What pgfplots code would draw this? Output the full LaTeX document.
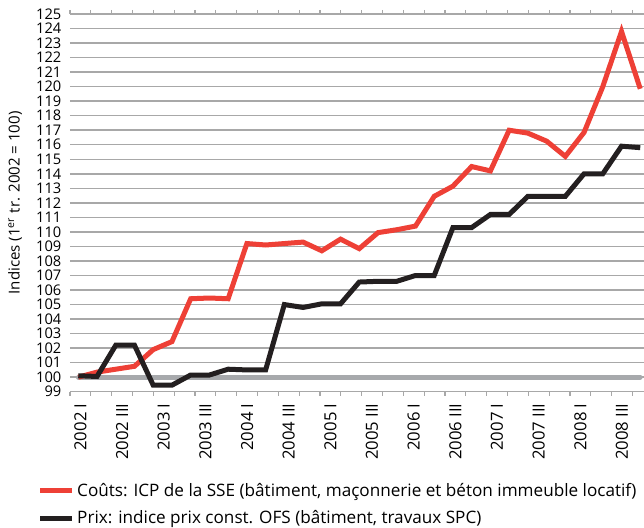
\documentclass[border=0pt]{standalone}
\usepackage{fontspec}
\setmainfont{Open Sans}
\usepackage{pgfplots}
\usepackage{pgfplotstable}
\pgfplotsset{compat=1.18}
\definecolor{cred}{RGB}{238,64,54}
\definecolor{cblack}{RGB}{35,31,32}
\definecolor{cgrid}{RGB}{168,168,168}
\definecolor{cline}{RGB}{167,169,172}

\pgfplotstableread{
i cout prix
0 100.0 100.1
1 100.35 100.05
2 100.55 102.2
3 100.75 102.2
4 101.9 99.45
5 102.45 99.45
6 105.4 100.15
7 105.45 100.15
8 105.4 100.55
9 109.2 100.5
10 109.1 100.5
11 109.2 105.0
12 109.3 104.8
13 108.7 105.05
14 109.5 105.05
15 108.85 106.55
16 109.95 106.6
17 110.15 106.6
18 110.4 107.0
19 112.45 107.0
20 113.15 110.3
21 114.5 110.3
22 114.2 111.2
23 117.0 111.2
24 116.8 112.45
25 116.25 112.45
26 115.2 112.45
27 116.85 114.0
28 120.0 114.0
29 123.8 115.9
30 119.85 115.8
}\data

\begin{document}
\begin{tikzpicture}
\useasboundingbox (-52.5pt,-101.5pt) rectangle (430.5pt,293.8pt);
\begin{axis}[
  at={(0pt,0pt)}, anchor=south west,
  scale only axis, width=430.5pt, height=283.3pt,
  xmin=-0.443, xmax=30.2, ymin=99, ymax=125,
  axis line style={draw=none},
  /pgf/number format/assume math mode=true,
  ytick={99,100,...,125},
  ymajorgrids,
  grid style={cgrid, line width=1.1pt},
  major tick length=0pt,
  minor tick length=3pt,
  tick align=outside,
  minor tick style={cgrid, line width=0.9pt},
  xtick={0.112,2.336,4.560,6.785,9.009,11.233,13.457,15.681,17.906,20.130,22.354,24.578,26.802,29.027},
  xticklabels={2002 I,2002 III,2003 I,2003 III,2004 I,2004 III,2005 I,2005 III,2006 I,2006 III,2007 I,2007 III,2008 I,2008 III},
  minor xtick={-0.443,0.669,1.781,2.893,4.005,5.118,6.230,7.342,8.454,9.566,10.678,11.790,12.902,14.014,15.126,16.239,17.351,18.463,19.575,20.687,21.799,22.911,24.023,25.135,26.247,27.360,28.472,29.584},
  xticklabel style={yshift=-5.3pt, rotate=90, anchor=east, font=\fontsize{12.5}{14}\selectfont},
  yticklabel style={font=\fontsize{11}{13}\selectfont, xshift=-3pt},
  ylabel={Indices (1\textsuperscript{er} tr. 2002 = 100)},
  ylabel style={at={(axis description cs:-0.0958,0.5)}, anchor=center, font=\fontsize{11.3}{13}\selectfont},
  legend style={at={(axis description cs:-0.0557,-0.234)}, anchor=north west, draw=none, fill=none,
     font=\fontsize{12.85}{15}\selectfont, row sep=5.5pt, inner sep=0pt},
  legend cell align=left,
  legend image code/.code={\draw[#1, line width=3.2pt] (0pt,0pt) -- (24pt,0pt);},
]
\addplot[cline, line width=3.5pt, line cap=round, forget plot] coordinates {(0,100) (30,100)};
\addplot[cred, line width=3.75pt] table[x=i, y=cout] {\data};
\addlegendentry{Coûts: ICP de la SSE (bâtiment, maçonnerie et béton immeuble locatif)}
\addplot[cblack, line width=3.75pt] table[x=i, y=prix] {\data};
\addlegendentry{Prix: indice prix const. OFS (bâtiment, travaux SPC)}
\end{axis}
\end{tikzpicture}
\end{document}
